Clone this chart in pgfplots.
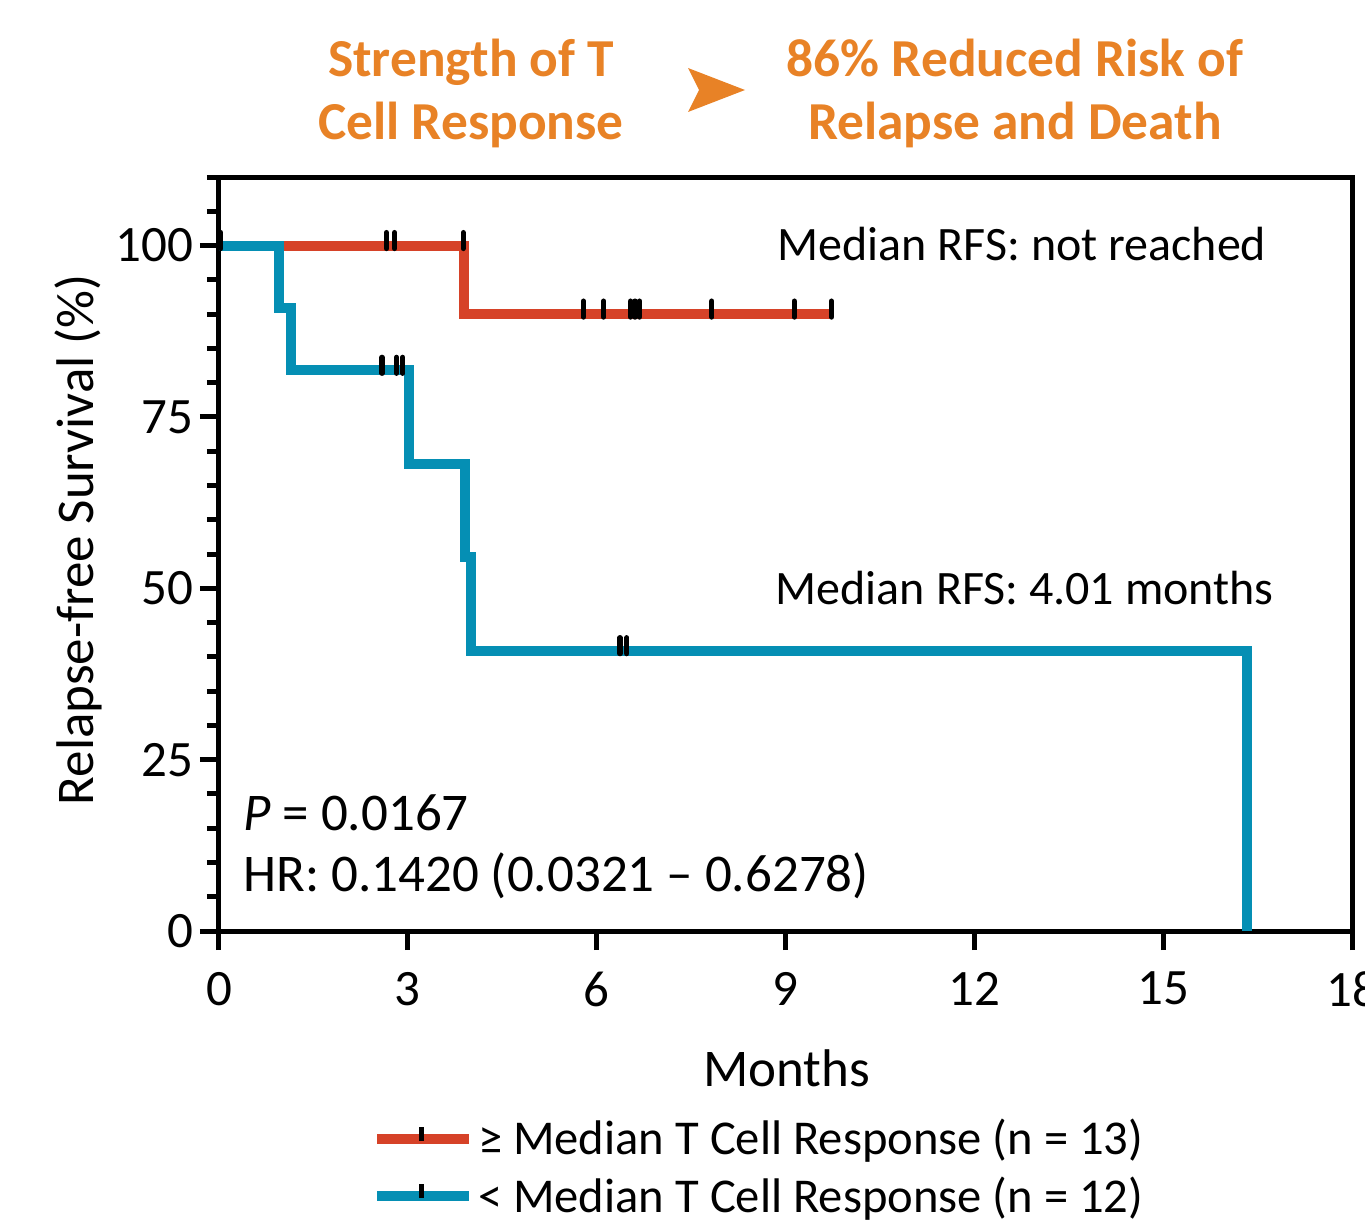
\documentclass[border=0pt]{standalone}
\usepackage{fontspec}
\setmainfont{Carlito}
\usepackage{pgfplots}
\pgfplotsset{compat=1.18}
\definecolor{redc}{RGB}{214,66,40}
\definecolor{bluec}{RGB}{5,143,180}
\definecolor{orangec}{RGB}{232,130,38}
\pgfdeclareplotmark{cens}{\pgfpathmoveto{\pgfqpoint{0pt}{-1.5pt}}\pgfpathlineto{\pgfqpoint{0pt}{6.5pt}}\pgfusepathqstroke}
\pgfplotsset{
 redleg/.style={legend image code/.code={\draw[redc,line width=5pt] (0pt,0pt)--(46pt,0pt); \draw[black,line width=2.5pt] (22pt,-1pt)--(22pt,6pt);}},
 blueleg/.style={legend image code/.code={\draw[bluec,line width=5pt] (0pt,0pt)--(46pt,0pt); \draw[black,line width=2.5pt] (22pt,-1pt)--(22pt,6pt);}},
}
\begin{document}
\begin{tikzpicture}
\begin{axis}[
 scale only axis, width=566.5pt, height=377pt,
 xmin=0, xmax=18, ymin=0, ymax=110,
 xtick={0,3,...,18}, ytick={0,25,50,75,100},
 minor ytick={5,10,15,20,30,35,40,45,55,60,65,70,80,85,90,95,105,110},
 xtick pos=lower, ytick pos=left, tick align=outside,
 major tick length=9.5pt, minor tick length=6pt,
 tick style={black, line width=2.5pt},
 axis line style={line width=2.5pt},
 /pgf/number format/assume math mode=true,
 ticklabel style={font=\fontsize{25.5}{30}\selectfont},
 xticklabel style={yshift=-7.5pt},
 xlabel={Months}, ylabel={Relapse-free Survival (\%)},
 label style={font=\fontsize{26.5}{31}\selectfont},
 xlabel style={at={(axis description cs:0.501,-0.182)}, anchor=center},
 ylabel style={at={(axis description cs:-0.1245,0.519)}, anchor=center},
 clip=false,
 legend style={at={(axis description cs:0.1294,-0.2386)}, anchor=north west, draw=none, fill=none,
   font=\fontsize{24.3}{29}\selectfont, row sep=5.5pt},
 legend cell align=left,
]
\coordinate (O) at (rel axis cs:0,0);
\addlegendimage{redleg}
\addlegendentry{≥ Median T Cell Response (n = 13)}
\addlegendimage{blueleg}
\addlegendentry{< Median T Cell Response (n = 12)}
\addplot[forget plot, const plot, redc, line width=5pt] coordinates {(0,100) (3.9,90) (9.76,90)};
\addplot[forget plot, const plot, bluec, line width=5pt] coordinates {(0,100) (0.95,90.9) (1.15,81.8) (3.02,68.2) (3.91,54.5) (4.01,40.9) (16.33,0)};
\addplot[forget plot, only marks, mark=cens, mark options={black, line width=2.6pt, line cap=round}] coordinates {
 (0.03,100) (2.66,100) (2.79,100) (3.88,100)
 (5.79,90) (6.11,90) (6.54,90) (6.61,90) (6.68,90) (7.83,90) (9.14,90) (9.73,90)};
\addplot[forget plot, only marks, mark=cens, mark options={black, line width=2.6pt, line cap=round}] coordinates {
 (2.59,81.8) (2.82,81.8) (2.92,81.8) (6.37,40.9) (6.48,40.9)};
\node[anchor=base west, inner sep=0pt, font=\fontsize{24}{29}\selectfont] at (axis cs:8.87,97.8) {Median RFS: not reached};
\node[anchor=base west, inner sep=0pt, font=\fontsize{24}{29}\selectfont] at (axis cs:8.84,47.7) {Median RFS: 4.01 months};
\node[anchor=base west, inner sep=0pt, font=\fontsize{26.5}{31}\selectfont] at (axis cs:0.38,14.7) {\textit{P} = 0.0167};
\node[anchor=base west, inner sep=0pt, font=\fontsize{26.5}{31}\selectfont] at (axis cs:0.38,5.7) {HR: 0.1420 (0.0321 -- 0.6278)};
\end{axis}
\node[font=\bfseries\fontsize{26.7}{31.5}\selectfont, text=orangec, align=center] at ([shift={(126pt,419pt)}]O) {Strength of T\\Cell Response};
\node[font=\bfseries\fontsize{26.7}{31.5}\selectfont, text=orangec, align=center] at ([shift={(398pt,419pt)}]O) {86\% Reduced Risk of\\Relapse and Death};
\fill[orangec] ([shift={(234.5pt,431.5pt)}]O) -- ([shift={(263pt,420.5pt)}]O) -- ([shift={(234.5pt,409.5pt)}]O) -- ([shift={(240pt,420.5pt)}]O) -- cycle;
\pgfresetboundingbox
\path ([shift={(-109.5pt,-146pt)}]O) rectangle ([shift={(573pt,465.5pt)}]O);
\end{tikzpicture}
\end{document}
